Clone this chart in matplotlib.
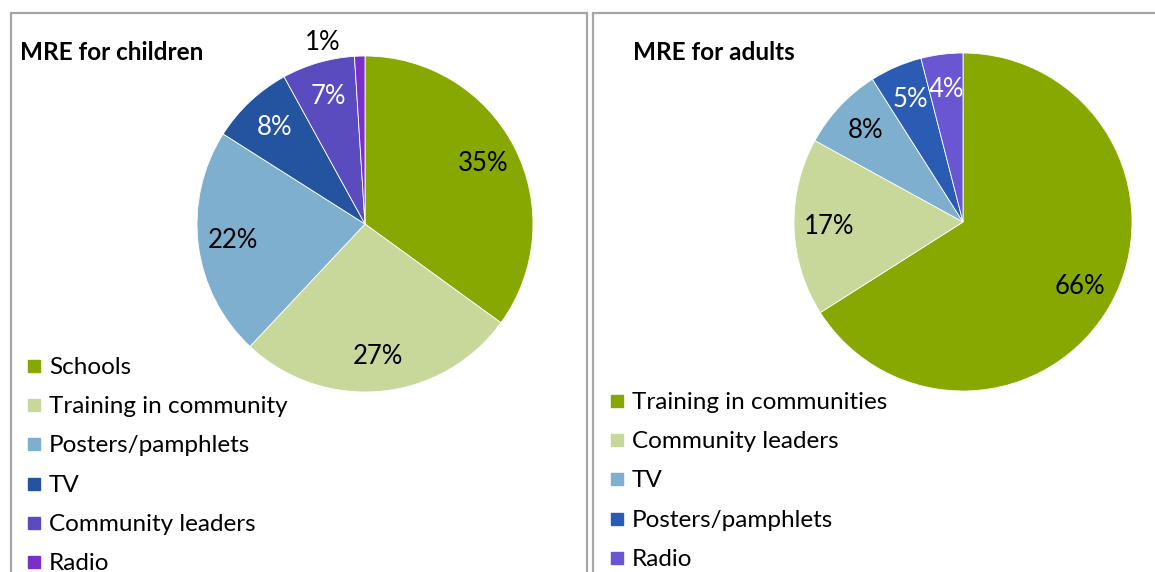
import matplotlib.pyplot as plt
from matplotlib.patches import Rectangle
import numpy as np

plt.rcParams["font.family"] = ["Lato", "DejaVu Sans"]

W, H = 1155, 572

child_labels = ["Schools", "Training in community", "Posters/pamphlets", "TV",
                "Community leaders", "Radio"]
child_values = [35, 27, 22, 8, 7, 1]
child_colors = ["#86A800", "#C8D79A", "#7FAFCE", "#2453A0", "#5A4BBE", "#7B2FC9"]

adult_labels = ["Training in communities", "Community leaders", "TV",
                "Posters/pamphlets", "Radio"]
adult_values = [66, 17, 8, 5, 4]
adult_colors = ["#86A800", "#C8D79A", "#7FAFCE", "#2A5CB3", "#6A55D2"]

DARK = {"#2453A0", "#5A4BBE", "#7B2FC9", "#2A5CB3", "#6A55D2"}


def fx(x):
    return x / W


def fy(y):
    return 1 - y / H


def draw_panel(fig, frame, center, radius, title, title_xy, labels, values,
               colors, legend_xy):
    # panel frame
    x0, y0, x1, y1 = frame
    fig.patches.append(Rectangle((fx(x0), fy(y1)), fx(x1 - x0), (y1 - y0) / H,
                                 transform=fig.transFigure, fill=False,
                                 edgecolor="#A6A6A6", linewidth=1.6))
    fig.text(fx(title_xy[0]), fy(title_xy[1]), title, fontsize=17.5,
             fontweight="bold", ha="left", va="center")

    cx, cy = center
    ax = fig.add_axes([fx(cx - radius), fy(cy + radius),
                       2 * radius / W, 2 * radius / H])
    wedges, _, autotexts = ax.pie(
        values, colors=colors, startangle=90, counterclock=False,
        wedgeprops=dict(edgecolor="white", linewidth=0.6),
        autopct=lambda p: f"{p:.0f}%", pctdistance=0.79,
        textprops=dict(fontsize=18.5))
    for w, t, c in zip(wedges, autotexts, colors):
        t.set_color("white" if c in DARK else "black")
        if w.theta2 - w.theta1 < 5:
            ang = np.deg2rad((w.theta1 + w.theta2) / 2)
            t.set_color("black")
            t.set_position((np.cos(ang) - 0.22, 1.08 * np.sin(ang)))
    ax.set_xlim(-1, 1)
    ax.set_ylim(-1, 1)
    ax.set_aspect("equal")
    ax.axis("off")

    lx, ly = legend_xy
    for i, (lab, c) in enumerate(zip(labels, colors)):
        yy = ly + i * 39.2
        fig.patches.append(Rectangle((fx(lx), fy(yy + 6)), 12 / W, 12 / H,
                                     transform=fig.transFigure, color=c))
        fig.text(fx(lx + 21), fy(yy + 1.5), lab, fontsize=17.5, ha="left",
                 va="center")


fig = plt.figure(figsize=(W / 100, H / 100), dpi=100)

draw_panel(fig, (11, 13, 587, 600), (365, 224), 168, "MRE for children",
           (20, 52), child_labels, child_values, child_colors, (28, 366))
draw_panel(fig, (593, 13, 1180, 600), (963, 222), 169, "MRE for adults",
           (633, 52), adult_labels, adult_values, adult_colors, (611, 401))

fig.savefig("out.png", dpi=100)
